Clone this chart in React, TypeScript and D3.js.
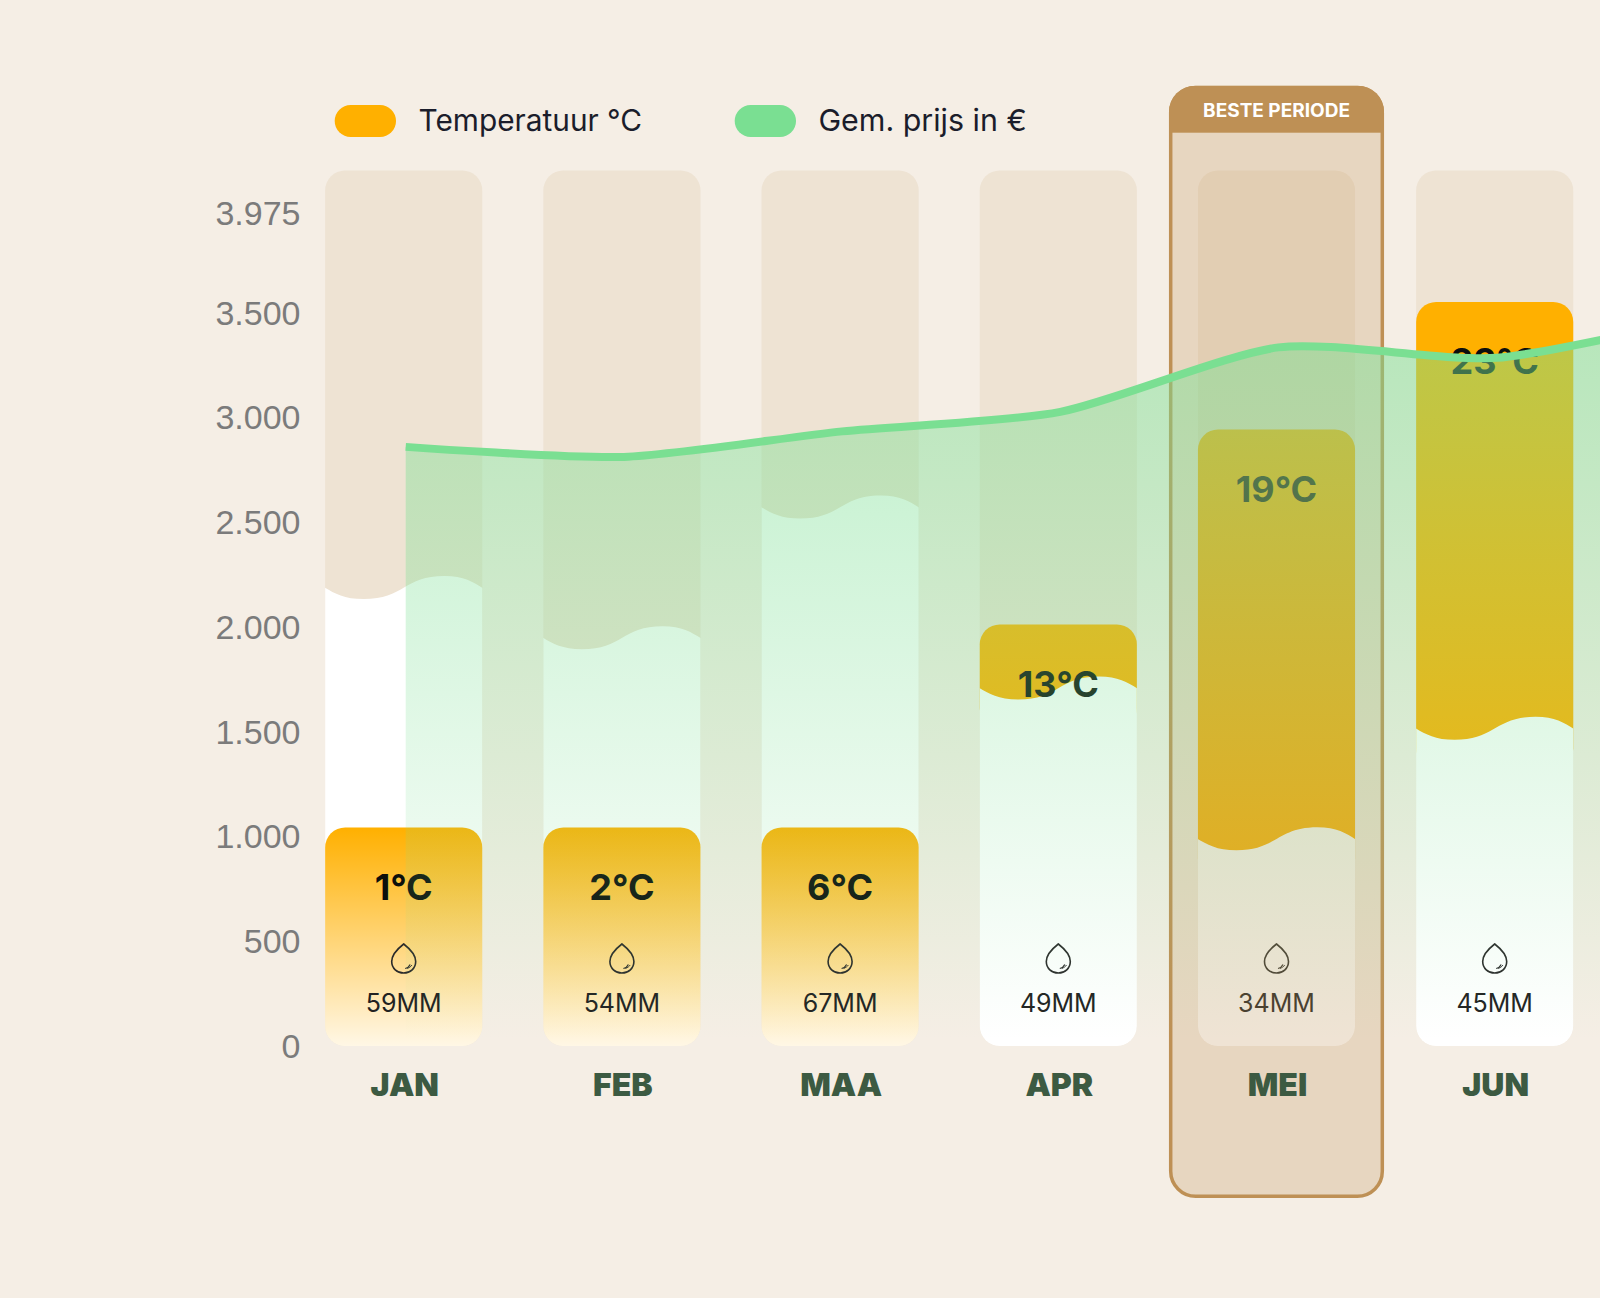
import React from 'react';
import * as d3 from 'd3';

const months = ['JAN', 'FEB', 'MAA', 'APR', 'MEI', 'JUN', 'JUL'];
const shownMonths = months.slice(0, 6);
const temperatures = [1, 2, 6, 13, 19, 23];
const rainfall = [59, 54, 67, 49, 34, 45];
const prices = [2860, 2812, 2934, 3027, 3335, 3285, 3490];
const priceTicks = [0, 500, 1000, 1500, 2000, 2500, 3000, 3500, 3975];
const bestMonth = 'MEI';
// crests of the wave on top of a rain bar, the outer two fall outside the bar and get clipped
const waveShape: [number, number][] = [[-0.25, -11.5], [0.245, 11.5], [0.76, -11.5], [1.25, 13]];

const WIDTH = 1600;
const HEIGHT = 1298;
const BAR_TOP = 170.5;
const BAR_BOTTOM = 1046;
const BG = '#F5EEE5';
const ORANGE = '#FFB000';
const GREEN = '#7ADF92';
const BRONZE = '#BE9055';
const SANS = 'Inter, "Noto Sans", sans-serif';

const x = d3.scaleBand<string>()
  .domain(months)
  .range([294.6, 294.6 + 218.2 * months.length])
  .paddingInner(0.28)
  .paddingOuter(0.14);

const y = d3.scaleLinear().domain([0, 3975]).range([BAR_BOTTOM, 213.3]);
const tempY = d3.scaleLinear().domain([6, 13, 19, 23]).range([827.5, 624.5, 429.6, 302]).clamp(true);
const rainY = d3.scaleLinear().domain([34, 67]).range([838.8, 507.1]);

const tickFormat = d3.formatLocale({ decimal: ',', thousands: '.', grouping: [3], currency: ['€', ''] }).format(',');
const bw = x.bandwidth();
const centre = (m: string) => (x(m) as number) + bw / 2;

const priceLine = d3.line<number>()
  .x((_, i) => centre(months[i]) + 2)
  .y(d => y(d))
  .curve(d3.curveCardinal.tension(0.3));

const priceArea = d3.area<number>()
  .x((_, i) => centre(months[i]) + 2)
  .y0(y(0))
  .y1(d => y(d))
  .curve(d3.curveCardinal.tension(0.3));

const wave = d3.line<[number, number]>()
  .x(d => d[0])
  .y(d => d[1])
  .curve(d3.curveBumpX);

const rainPath = (m: string, mm: number) => {
  const x0 = x(m) as number;
  const top = rainY(mm);
  const pts = waveShape.map(([t, o]) => [x0 + t * bw, top + o] as [number, number]);
  const right = pts[pts.length - 1][0];
  return `${wave(pts)}L${right},${BAR_BOTTOM}L${pts[0][0]},${BAR_BOTTOM}Z`;
};

const Drop = ({ cx, cy }: { cx: number; cy: number }) => (
  <g transform={`translate(${cx},${cy})`} fill="none" stroke="#2a2a2a">
    <path strokeWidth={1.6} d="M0,-14.5 C4.5,-11 12,-4.5 12,3 C12,9.8 6.6,14.5 0,14.5 C-6.6,14.5 -12,9.8 -12,3 C-12,-4.5 -4.5,-11 0,-14.5Z" />
    <path strokeWidth={1.2} d="M1.5,10 C3.5,9.5 5.5,8.2 6.5,6" />
    <path strokeWidth={0.9} d="M3.5,10 C5.5,9.2 7.5,8 8.2,6.5" />
  </g>
);

export default function App() {
  const frameX = (x(bestMonth) as number) - 29;
  const frameW = bw + 58;
  const frameTop = 85.7;
  const frameBottom = 1198;

  return (
    <svg
      width={WIDTH}
      height={HEIGHT}
      viewBox={`0 0 ${WIDTH} ${HEIGHT}`}
      style={{ position: 'absolute', left: 0, top: 0, display: 'block', background: BG }}
    >
      <defs>
        <linearGradient id="tempFade" x1="0" y1="0" x2="0" y2="1">
          <stop offset="0" stopColor={ORANGE} stopOpacity={1} />
          <stop offset="1" stopColor={ORANGE} stopOpacity={0.1} />
        </linearGradient>
        <linearGradient id="priceFade" gradientUnits="userSpaceOnUse" x1="0" y1={340} x2="0" y2={1040}>
          <stop offset="0" stopColor={GREEN} stopOpacity={0.5} />
          <stop offset="1" stopColor={GREEN} stopOpacity={0} />
        </linearGradient>
        <clipPath id="frameClip">
          <rect x={frameX} y={frameTop} width={frameW} height={frameBottom - frameTop} rx={26} />
        </clipPath>
        {shownMonths.map(m => (
          <clipPath id={`bar-${m}`} key={m}>
            <rect x={x(m)} y={BAR_TOP} width={bw} height={BAR_BOTTOM - BAR_TOP} rx={20} />
          </clipPath>
        ))}
      </defs>

      {/* legend */}
      <rect x={334.7} y={105} width={61.3} height={32} rx={16} fill={ORANGE} />
      <text x={418.6} y={120.5} dy="0.35em" fontFamily={SANS} fontSize={29.8} fill="#1b1d2b">Temperatuur °C</text>
      <rect x={734.7} y={105} width={61.3} height={32} rx={16} fill={GREEN} />
      <text x={818.4} y={120.5} dy="0.35em" fontFamily={SANS} fontSize={30.4} fill="#1b1d2b">Gem. prijs in €</text>

      {/* y axis */}
      {priceTicks.map(t => (
        <text
          key={t}
          x={300.5}
          y={y(t)}
          dy="0.35em"
          textAnchor="end"
          fontFamily='"Liberation Sans", Arial, sans-serif'
          fontSize={34}
          fill="#7b7b7b"
        >
          {tickFormat(t)}
        </text>
      ))}

      {/* month columns */}
      {shownMonths.map((m, i) => {
        const top = tempY(temperatures[i]);
        const rainTop = rainY(rainfall[i]);
        const tempOverRain = top > rainTop;
        const temp = (
          <rect
            x={x(m)}
            y={top}
            width={bw}
            height={(tempOverRain ? BAR_BOTTOM : rainTop + 40) - top}
            rx={20}
            fill={tempOverRain ? 'url(#tempFade)' : ORANGE}
          />
        );
        const rain = <path d={rainPath(m, rainfall[i])} fill="#fff" clipPath={`url(#bar-${m})`} />;
        return (
          <g key={m}>
            <rect x={x(m)} y={BAR_TOP} width={bw} height={BAR_BOTTOM - BAR_TOP} rx={20} fill={BRONZE} fillOpacity={0.12} />
            {tempOverRain ? rain : temp}
            {tempOverRain ? temp : rain}
            <text
              x={centre(m)}
              y={top + 59.5}
              dy="0.36em"
              textAnchor="middle"
              fontFamily={SANS}
              fontWeight={650}
              fontSize={36}
              fill="#0c0f0c"
            >
              {temperatures[i]}°C
            </text>
            <Drop cx={centre(m)} cy={958.5} />
            <text
              x={centre(m)}
              y={1003}
              dy="0.36em"
              textAnchor="middle"
              fontFamily={SANS}
              fontSize={25}
              fill="#222"
            >
              {rainfall[i]}MM
            </text>
          </g>
        );
      })}

      {/* best period frame */}
      <rect
        x={frameX + 1.75}
        y={frameTop + 1.75}
        width={frameW - 3.5}
        height={frameBottom - frameTop - 3.5}
        rx={25}
        fill={BRONZE}
        fillOpacity={0.25}
        stroke={BRONZE}
        strokeWidth={3.5}
      />
      <rect x={frameX} y={frameTop} width={frameW} height={47} fill={BRONZE} clipPath="url(#frameClip)" />
      <text
        x={frameX + frameW / 2}
        y={110.5}
        dy="0.36em"
        textAnchor="middle"
        fontFamily={SANS}
        fontWeight={700}
        fontSize={19}
        fill="#fff"
      >
        BESTE PERIODE
      </text>

      {/* price */}
      <path d={priceArea(prices) as string} fill="url(#priceFade)" />
      <path d={priceLine(prices) as string} fill="none" stroke={GREEN} strokeWidth={8} />

      {/* month labels */}
      {shownMonths.map(m => (
        <text
          key={m}
          x={centre(m) + 1}
          y={1084.5}
          dy="0.36em"
          textAnchor="middle"
          fontFamily={SANS}
          fontWeight={900}
          fontSize={32}
          fill="#3c5a42"
        >
          {m}
        </text>
      ))}
    </svg>
  );
}
